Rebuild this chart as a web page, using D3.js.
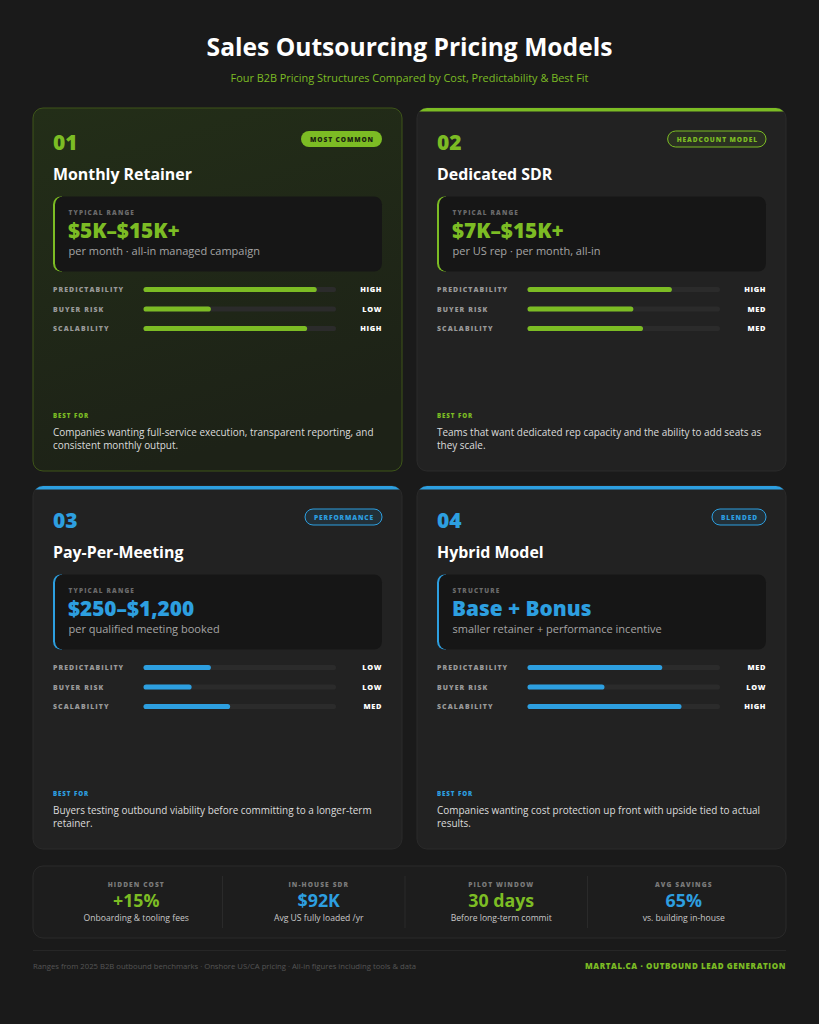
<!DOCTYPE html>
<html>
<head>
<meta charset="utf-8">
<script src="https://cdn.jsdelivr.net/npm/d3@7"></script>
<style>
html,body{margin:0;padding:0;background:#1a1a1a;}
svg{display:block;font-family:"Open Sans","Noto Sans",sans-serif;}
</style>
</head>
<body>
<svg id="chart" width="819" height="1024"></svg>
<script>
// ---------- DATA ----------
const title = "Sales Outsourcing Pricing Models";
const subtitle = "Four B2B Pricing Structures Compared by Cost, Predictability & Best Fit";
const numbers = ["01", "02", "03", "04"];
const models = ["Monthly Retainer", "Dedicated SDR", "Pay-Per-Meeting", "Hybrid Model"];
const badges = ["MOST COMMON", "HEADCOUNT MODEL", "PERFORMANCE", "BLENDED"];
const rangeLabels = ["TYPICAL RANGE", "TYPICAL RANGE", "TYPICAL RANGE", "STRUCTURE"];
const rangeValues = ["$5K–$15K+", "$7K–$15K+", "$250–$1,200", "Base + Bonus"];
const rangeSubs = [
  "per month · all-in managed campaign",
  "per US rep · per month, all-in",
  "per qualified meeting booked",
  "smaller retainer + performance incentive"
];
const metrics = ["PREDICTABILITY", "BUYER RISK", "SCALABILITY"];
const scores = [
  [0.90, 0.35, 0.85],
  [0.75, 0.55, 0.60],
  [0.35, 0.25, 0.45],
  [0.70, 0.40, 0.80]
];
const levels = [
  ["HIGH", "LOW", "HIGH"],
  ["HIGH", "MED", "MED"],
  ["LOW", "LOW", "MED"],
  ["MED", "LOW", "HIGH"]
];
const bestFor = [
  ["Companies wanting full-service execution, transparent reporting, and", "consistent monthly output."],
  ["Teams that want dedicated rep capacity and the ability to add seats as", "they scale."],
  ["Buyers testing outbound viability before committing to a longer-term", "retainer."],
  ["Companies wanting cost protection up front with upside tied to actual", "results."]
];
const accents = ["green", "green", "blue", "blue"];
const statLabels = ["HIDDEN COST", "IN-HOUSE SDR", "PILOT WINDOW", "AVG SAVINGS"];
const statValues = ["+15%", "$92K", "30 days", "65%"];
const statSubs = ["Onboarding & tooling fees", "Avg US fully loaded /yr", "Before long-term commit", "vs. building in-house"];
const statAccents = ["green", "blue", "green", "blue"];
const footerLeft = "Ranges from 2025 B2B outbound benchmarks · Onshore US/CA pricing · All-in figures including tools & data";
const footerRight = "MARTAL.CA · OUTBOUND LEAD GENERATION";

// ---------- STYLE ----------
const COL = { green: "#7cbc24", blue: "#2d9fe0" };
const W = 819;
const svg = d3.select("#chart");
const defs = svg.append("defs");

const g1 = defs.append("linearGradient").attr("id", "featGrad").attr("x1", 0).attr("y1", 0).attr("x2", 0.3).attr("y2", 1);
g1.append("stop").attr("offset", "0%").attr("stop-color", "#232e18");
g1.append("stop").attr("offset", "100%").attr("stop-color", "#1d2217");

svg.append("rect").attr("width", W).attr("height", 1024).attr("fill", "#1a1a1a");

svg.append("text").attr("x", W / 2).attr("y", 56).attr("text-anchor", "middle")
  .attr("fill", "#ffffff").attr("font-size", 24.6).attr("font-weight", 700).text(title);
svg.append("text").attr("x", W / 2).attr("y", 82).attr("text-anchor", "middle")
  .attr("fill", COL.green).attr("font-size", 10.9).attr("font-weight", 500).text(subtitle);

// ---------- CARDS ----------
const cardW = 369, cardH = 363;
const colX = d3.scaleOrdinal().domain([0, 1]).range([33, 417]);
const rowY = d3.scaleOrdinal().domain([0, 1]).range([108, 486]);
const barX = d3.scaleLinear().domain([0, 1]).range([0, 192.5]);

models.forEach((m, i) => {
  const cx = colX(i % 2), cy = rowY(Math.floor(i / 2));
  const c = COL[accents[i]];
  const g = svg.append("g").attr("transform", `translate(${cx},${cy})`);
  const clipId = "clip" + i;
  defs.append("clipPath").attr("id", clipId).append("rect")
    .attr("width", cardW).attr("height", cardH).attr("rx", 10);

  if (i === 0) {
    g.append("rect").attr("width", cardW).attr("height", cardH).attr("rx", 10)
      .attr("fill", "url(#featGrad)").attr("stroke", "#3e5519").attr("stroke-width", 1);
  } else {
    g.append("rect").attr("width", cardW).attr("height", cardH).attr("rx", 10)
      .attr("fill", "#222222").attr("stroke", "#2a2a2a").attr("stroke-width", 1);
    g.append("rect").attr("clip-path", `url(#${clipId})`).attr("width", cardW).attr("height", 3.5).attr("fill", c);
  }

  // number
  g.append("text").attr("x", 20).attr("y", 42).attr("fill", c)
    .attr("font-size", 21).attr("font-weight", 800).text(numbers[i]);

  // badge
  const badgeG = g.append("g");
  const bt = badgeG.append("text").attr("y", 33.5).attr("fill", i === 0 ? "#1a2410" : c)
    .attr("font-size", 6.6).attr("font-weight", 800).attr("letter-spacing", 0.9)
    .attr("text-anchor", "middle").text(badges[i]);
  const tw = bt.node().getComputedTextLength();
  const bw = tw + 17, bxr = cardW - 20;
  badgeG.insert("rect", "text").attr("x", bxr - bw).attr("y", 23).attr("width", bw).attr("height", 16)
    .attr("rx", 8)
    .attr("fill", i === 0 ? c : (accents[i] === "green" ? "rgba(124,188,36,0.10)" : "rgba(45,159,224,0.12)"))
    .attr("stroke", c).attr("stroke-width", i === 0 ? 0 : 1);
  bt.attr("x", bxr - bw / 2 + 0.5);

  // title
  g.append("text").attr("x", 20).attr("y", 72).attr("fill", "#ffffff")
    .attr("font-size", 15.9).attr("font-weight", 700).text(m);

  // range box
  const rx0 = 20, ry0 = 88.5, rw = cardW - 40, rh = 75;
  const lclip = "lclip" + i;
  defs.append("clipPath").attr("id", lclip).append("rect")
    .attr("x", rx0 - 1).attr("y", ry0 - 1).attr("width", 10).attr("height", rh + 2);
  g.append("rect").attr("clip-path", `url(#${lclip})`).attr("x", rx0).attr("y", ry0)
    .attr("width", rw).attr("height", rh).attr("rx", 8).attr("fill", c);
  g.append("rect").attr("x", rx0 + 2).attr("y", ry0).attr("width", rw - 2).attr("height", rh).attr("rx", 8).attr("fill", "#161616");
  g.append("text").attr("x", 35.5).attr("y", 106.5).attr("fill", "#6b6b6b")
    .attr("font-size", 6.4).attr("font-weight", 800).attr("letter-spacing", 1.2).text(rangeLabels[i]);
  g.append("text").attr("x", 35).attr("y", 129.5).attr("fill", c)
    .attr("font-size", 20.8).attr("font-weight", 800).text(rangeValues[i]);
  g.append("text").attr("x", 35.5).attr("y", 146.5).attr("fill", "#a5a5a5")
    .attr("font-size", 11).attr("font-weight", 400).text(rangeSubs[i]);

  // metric bars
  const yRow = d3.scalePoint().domain(metrics).range([181.5, 220.5]);
  metrics.forEach((mt, k) => {
    const y = yRow(mt);
    g.append("text").attr("x", 20).attr("y", y + 2.5).attr("fill", "#9a9a9a")
      .attr("font-size", 6.9).attr("font-weight", 800).attr("letter-spacing", 1.1).text(mt);
    g.append("rect").attr("x", 110.5).attr("y", y - 2.6).attr("width", barX(1)).attr("height", 5.2)
      .attr("rx", 2.6).attr("fill", "#2b2b2b");
    g.append("rect").attr("x", 110.5).attr("y", y - 2.6).attr("width", barX(scores[i][k])).attr("height", 5.2)
      .attr("rx", 2.6).attr("fill", c);
    g.append("text").attr("x", cardW - 20).attr("y", y + 2.5).attr("text-anchor", "end").attr("fill", "#ffffff")
      .attr("font-size", 7.4).attr("font-weight", 800).attr("letter-spacing", 0.6).text(levels[i][k]);
  });

  // best for
  g.append("text").attr("x", 20).attr("y", 309.5).attr("fill", c)
    .attr("font-size", 6.2).attr("font-weight", 800).attr("letter-spacing", 0.9).text("BEST FOR");
  bestFor[i].forEach((ln, k) => {
    g.append("text").attr("x", 20).attr("y", 327.5 + k * 13).attr("fill", "#dcdcdc")
      .attr("font-size", 9.95).attr("font-weight", 400).text(ln);
  });
});

// ---------- STATS PANEL ----------
svg.append("rect").attr("x", 33).attr("y", 866).attr("width", 753).attr("height", 72).attr("rx", 10)
  .attr("fill", "#1d1d1d").attr("stroke", "#2a2a2a").attr("stroke-width", 1);
const sx = d3.scaleBand().domain(statLabels).range([45, 775]);
statLabels.forEach((lab, i) => {
  const xc = sx(lab) + sx.bandwidth() / 2;
  if (i > 0) {
    svg.append("line").attr("x1", sx(lab) - 5).attr("x2", sx(lab) - 5).attr("y1", 876).attr("y2", 928)
      .attr("stroke", "#2a2a2a").attr("stroke-width", 1);
  }
  svg.append("text").attr("x", xc).attr("y", 886.5).attr("text-anchor", "middle").attr("fill", "#7a7a7a")
    .attr("font-size", 6.6).attr("font-weight", 800).attr("letter-spacing", 1.1).text(lab);
  svg.append("text").attr("x", xc).attr("y", 907).attr("text-anchor", "middle").attr("fill", COL[statAccents[i]])
    .attr("font-size", 17.8).attr("font-weight", 700).text(statValues[i]);
  svg.append("text").attr("x", xc).attr("y", 920.5).attr("text-anchor", "middle").attr("fill", "#c8c8c8")
    .attr("font-size", 8.6).attr("font-weight", 400).text(statSubs[i]);
});

// ---------- FOOTER ----------
svg.append("line").attr("x1", 33).attr("x2", 786).attr("y1", 950.5).attr("y2", 950.5)
  .attr("stroke", "#262626").attr("stroke-width", 1);
svg.append("text").attr("x", 33).attr("y", 968.5).attr("fill", "#555555")
  .attr("font-size", 7.7).attr("font-weight", 400).text(footerLeft);
svg.append("text").attr("x", 786).attr("y", 968.5).attr("text-anchor", "end").attr("fill", COL.green)
  .attr("font-size", 8).attr("font-weight", 800).attr("letter-spacing", 0.6).text(footerRight);
</script>
</body>
</html>
